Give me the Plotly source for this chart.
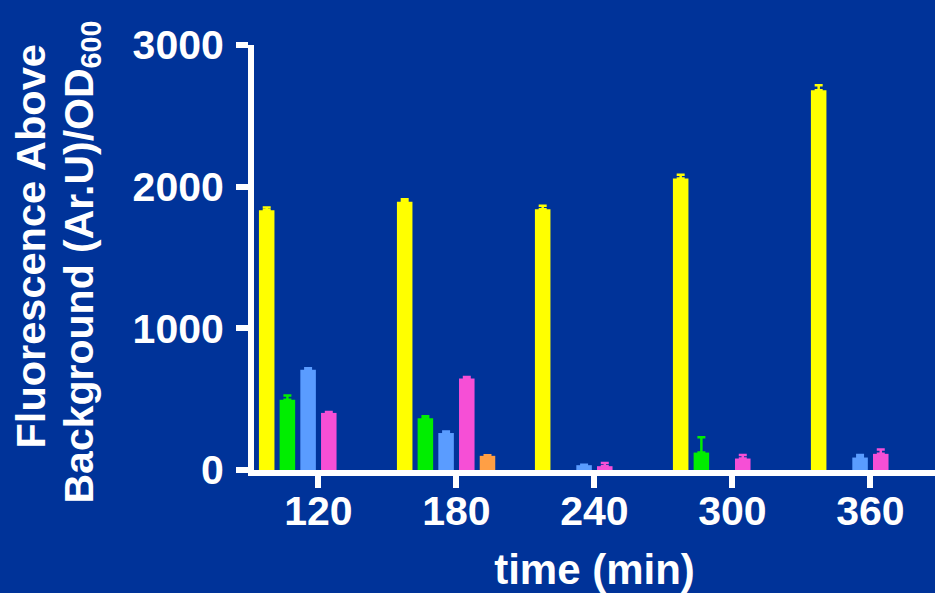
import plotly.graph_objects as go

# Sampling times (min) and per-construct fluorescence (mean, upper SD)
times = ["120", "180", "240", "300", "360"]

yellow_vals = [1833, 1894, 1840, 2057, 2681]
yellow_err = [20, 18, 25, 28, 35]

green_vals = [496, 366, None, 123, None]
green_err = [30, 13, 0, 109, 0]

blue_vals = [707, 261, 34, None, 88]
blue_err = [12, 11, 3, 0, 18]

pink_vals = [403, 646, 27, 81, 114]
pink_err = [6, 11, 22, 25, 30]

orange_vals = [None, 100, None, None, None]
orange_err = [0, 4, 0, 0, 0]

series = [
    ("Construct 1", yellow_vals, yellow_err, "#FFFF00"),
    ("Construct 2", green_vals, green_err, "#00EE00"),
    ("Construct 3", blue_vals, blue_err, "#5A9CFF"),
    ("Construct 4", pink_vals, pink_err, "#F64FD6"),
    ("Construct 5", orange_vals, orange_err, "#FF9F45"),
]

BG = "#003399"
FONT = "Liberation Sans, Arial, sans-serif"

# six slots per time point; the sixth slot is left empty
n_slots = 6
group_width = 0.9
slot = group_width / n_slots
bar_w = slot * 0.75

fig = go.Figure()
x_idx = list(range(len(times)))
for i, (name, vals, err, col) in enumerate(series):
    off = -group_width / 2 + i * slot + (slot - bar_w) / 2
    fig.add_trace(go.Bar(
        x=x_idx, y=vals, name=name,
        width=bar_w, offset=off,
        marker=dict(color=col, line=dict(width=0)),
        error_y=dict(type="data", array=err, arrayminus=[0] * len(err),
                     symmetric=False, color=col, thickness=2.5, width=4),
        showlegend=False,
    ))

fig.update_layout(
    width=935, height=593,
    margin=dict(l=254, r=0, t=45, b=123),
    paper_bgcolor=BG, plot_bgcolor=BG,
    font=dict(family=FONT, color="white", size=40),
    barmode="overlay",
    xaxis=dict(
        range=[-0.467, 4.468],
        tickmode="array", tickvals=x_idx, ticktext=times,
        showgrid=False, zeroline=False,
        showline=True, linecolor="white", linewidth=6,
        ticks="outside", ticklen=12, tickwidth=6, tickcolor="white",
        ticklabelstandoff=-12,
        tickfont=dict(family=FONT, size=41, color="white", weight="bold"),
        title=dict(text="<b>time (min)</b>", standoff=29,
                   font=dict(family=FONT, size=42, color="white")),
    ),
    yaxis=dict(
        range=[0, 3000],
        tickvals=[0, 1000, 2000, 3000],
        showgrid=False, zeroline=False,
        showline=True, linecolor="white", linewidth=6,
        ticks="outside", ticklen=12, tickwidth=6, tickcolor="white",
        ticklabelstandoff=4,
        tickfont=dict(family=FONT, size=41, color="white", weight="bold"),
    ),
)

fig.add_annotation(
    text="<b>Fluorescence Above</b>", textangle=-90,
    xref="paper", yref="paper", x=0, y=0.5, xshift=-224, yshift=11,
    xanchor="center", yanchor="middle", showarrow=False,
    font=dict(family=FONT, size=41.5, color="white"),
)
fig.add_annotation(
    text="<b>Background (Ar.U)/OD<sub>600</sub></b>", textangle=-90,
    xref="paper", yref="paper", x=0, y=0.5, xshift=-173, yshift=-5,
    xanchor="center", yanchor="middle", showarrow=False,
    font=dict(family=FONT, size=41, color="white"),
)

fig.write_html("out.html")
